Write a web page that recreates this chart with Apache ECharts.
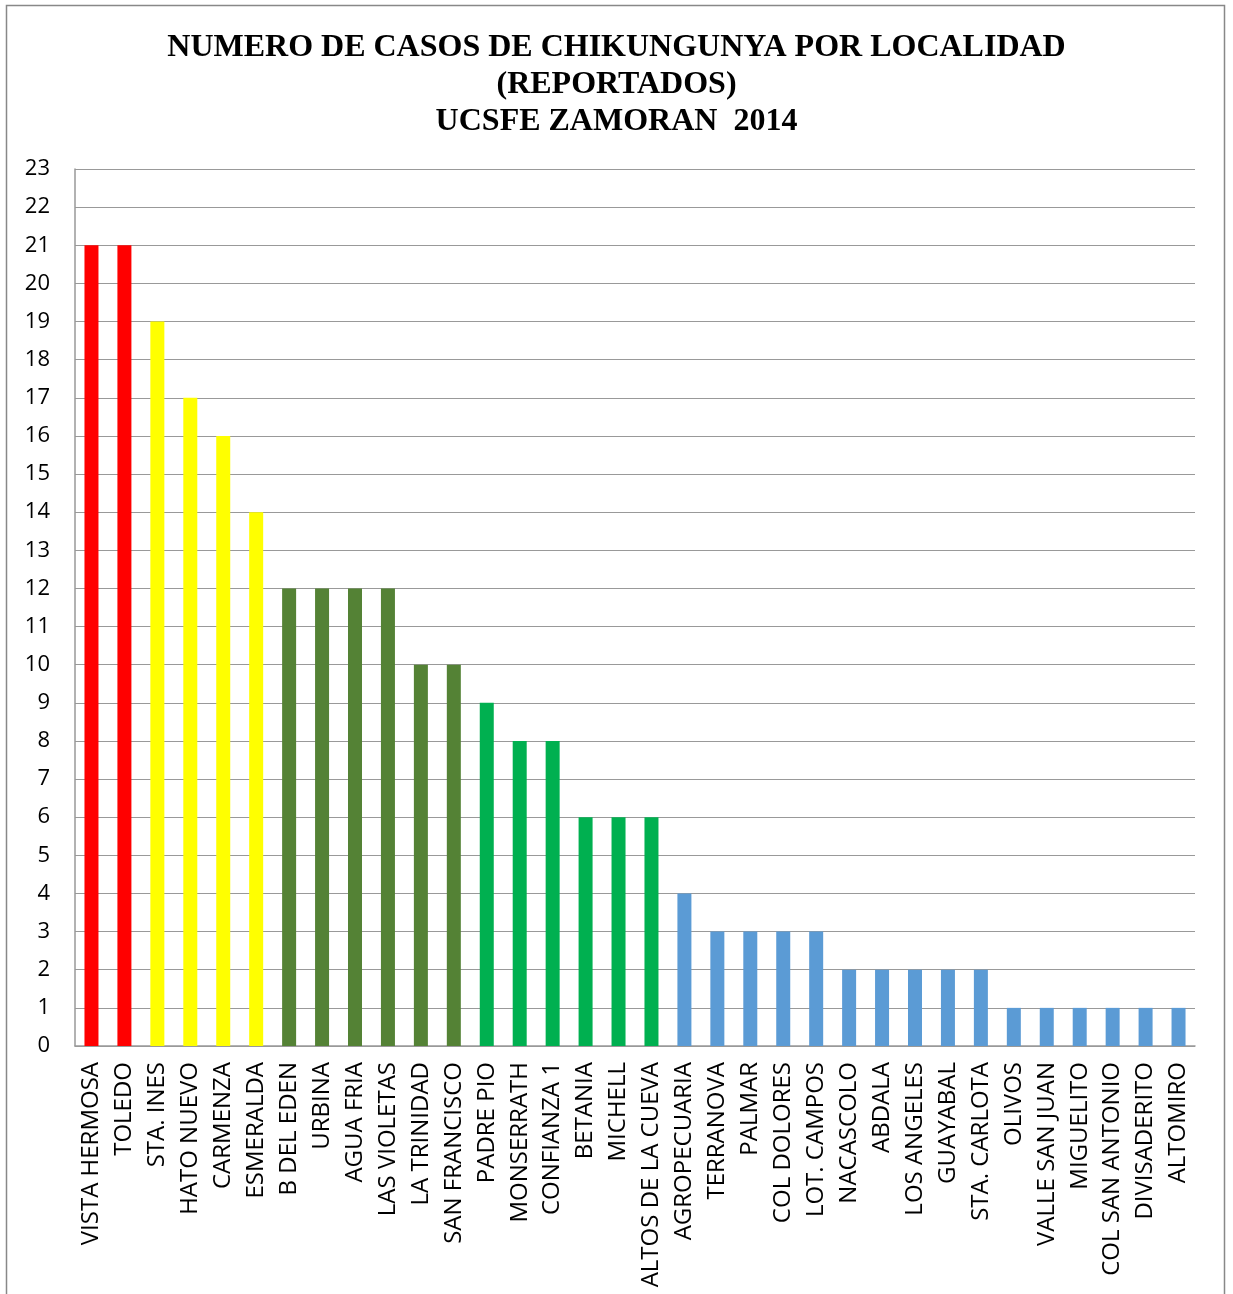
<!DOCTYPE html>
<html>
<head>
<meta charset="utf-8">
<script src="https://cdn.jsdelivr.net/npm/echarts@6/dist/echarts.min.js"></script>
<style>
  html, body { margin: 0; padding: 0; background: #fff; }
  #chart { width: 1233px; height: 1294px; }
</style>
</head>
<body>
<div id="chart"></div>
<script>
// localidades y casos reportados
const localidades = [
  'VISTA HERMOSA', 'TOLEDO', 'STA. INES', 'HATO NUEVO', 'CARMENZA', 'ESMERALDA',
  'B DEL EDEN', 'URBINA', 'AGUA FRIA', 'LAS VIOLETAS', 'LA TRINIDAD', 'SAN FRANCISCO',
  'PADRE PIO', 'MONSERRATH', 'CONFIANZA 1', 'BETANIA', 'MICHELL', 'ALTOS DE LA CUEVA',
  'AGROPECUARIA', 'TERRANOVA', 'PALMAR', 'COL DOLORES', 'LOT. CAMPOS', 'NACASCOLO',
  'ABDALA', 'LOS ANGELES', 'GUAYABAL', 'STA. CARLOTA', 'OLIVOS', 'VALLE SAN JUAN',
  'MIGUELITO', 'COL SAN ANTONIO', 'DIVISADERITO', 'ALTOMIRO'
];
const casos = [
  21, 21, 19, 17, 16, 14,
  12, 12, 12, 12, 10, 10,
  9, 8, 8, 6, 6, 6,
  4, 3, 3, 3, 3, 2,
  2, 2, 2, 2, 1, 1,
  1, 1, 1, 1
];
// color de cada barra (grupo)
const grupos = [
  'rojo', 'rojo', 'amarillo', 'amarillo', 'amarillo', 'amarillo',
  'verdeOsc', 'verdeOsc', 'verdeOsc', 'verdeOsc', 'verdeOsc', 'verdeOsc',
  'verde', 'verde', 'verde', 'verde', 'verde', 'verde',
  'azul', 'azul', 'azul', 'azul', 'azul', 'azul', 'azul', 'azul',
  'azul', 'azul', 'azul', 'azul', 'azul', 'azul', 'azul', 'azul'
];
const colores = {
  rojo: '#FF0000',
  amarillo: '#FFFF00',
  verdeOsc: '#548235',
  verde: '#00B050',
  azul: '#5B9BD5'
};
const titulo = 'NUMERO DE CASOS DE CHIKUNGUNYA POR LOCALIDAD\n(REPORTADOS)\nUCSFE ZAMORAN  2014';

let myChart = echarts.init(document.getElementById('chart'));

myChart.setOption({
  animation: false,
  title: {
    text: titulo,
    left: 'center',
    top: 24,
    textStyle: {
      fontFamily: 'Liberation Serif',
      fontWeight: 'bold',
      fontSize: 32,
      lineHeight: 37,
      color: '#000'
    }
  },
  grid: {
    left: 75,
    right: 38,
    top: 169,
    bottom: 248
  },
  graphic: [{
    type: 'rect',
    shape: { x: 6.5, y: 5.5, width: 1218, height: 1300 },
    style: { fill: 'none', stroke: '#888', lineWidth: 1.5 },
    silent: true
  }],
  xAxis: [{
    type: 'category',
    data: localidades,
    axisLine: { lineStyle: { color: '#999', width: 1.5 } },
    axisTick: { show: false },
    axisLabel: {
      interval: 0,
      rotate: 90,
      margin: 16,
      fontFamily: 'Open Sans',
      fontSize: 24,
      color: '#000'
    }
  }],
  yAxis: [{
    type: 'value',
    min: 0,
    max: 23,
    interval: 1,
    axisLine: { show: true, lineStyle: { color: '#999', width: 1.5 } },
    axisTick: { show: false },
    splitLine: { lineStyle: { color: '#999', width: 1.2 } },
    axisLabel: {
      margin: 25,
      fontFamily: 'Open Sans',
      fontSize: 22,
      color: '#000'
    }
  }],
  series: [{
    name: 'Casos',
    type: 'bar',
    barWidth: 14,
    data: casos.map((v, k) => ({
      value: v,
      itemStyle: { color: colores[grupos[k]] }
    }))
  }]
});
</script>
</body>
</html>
